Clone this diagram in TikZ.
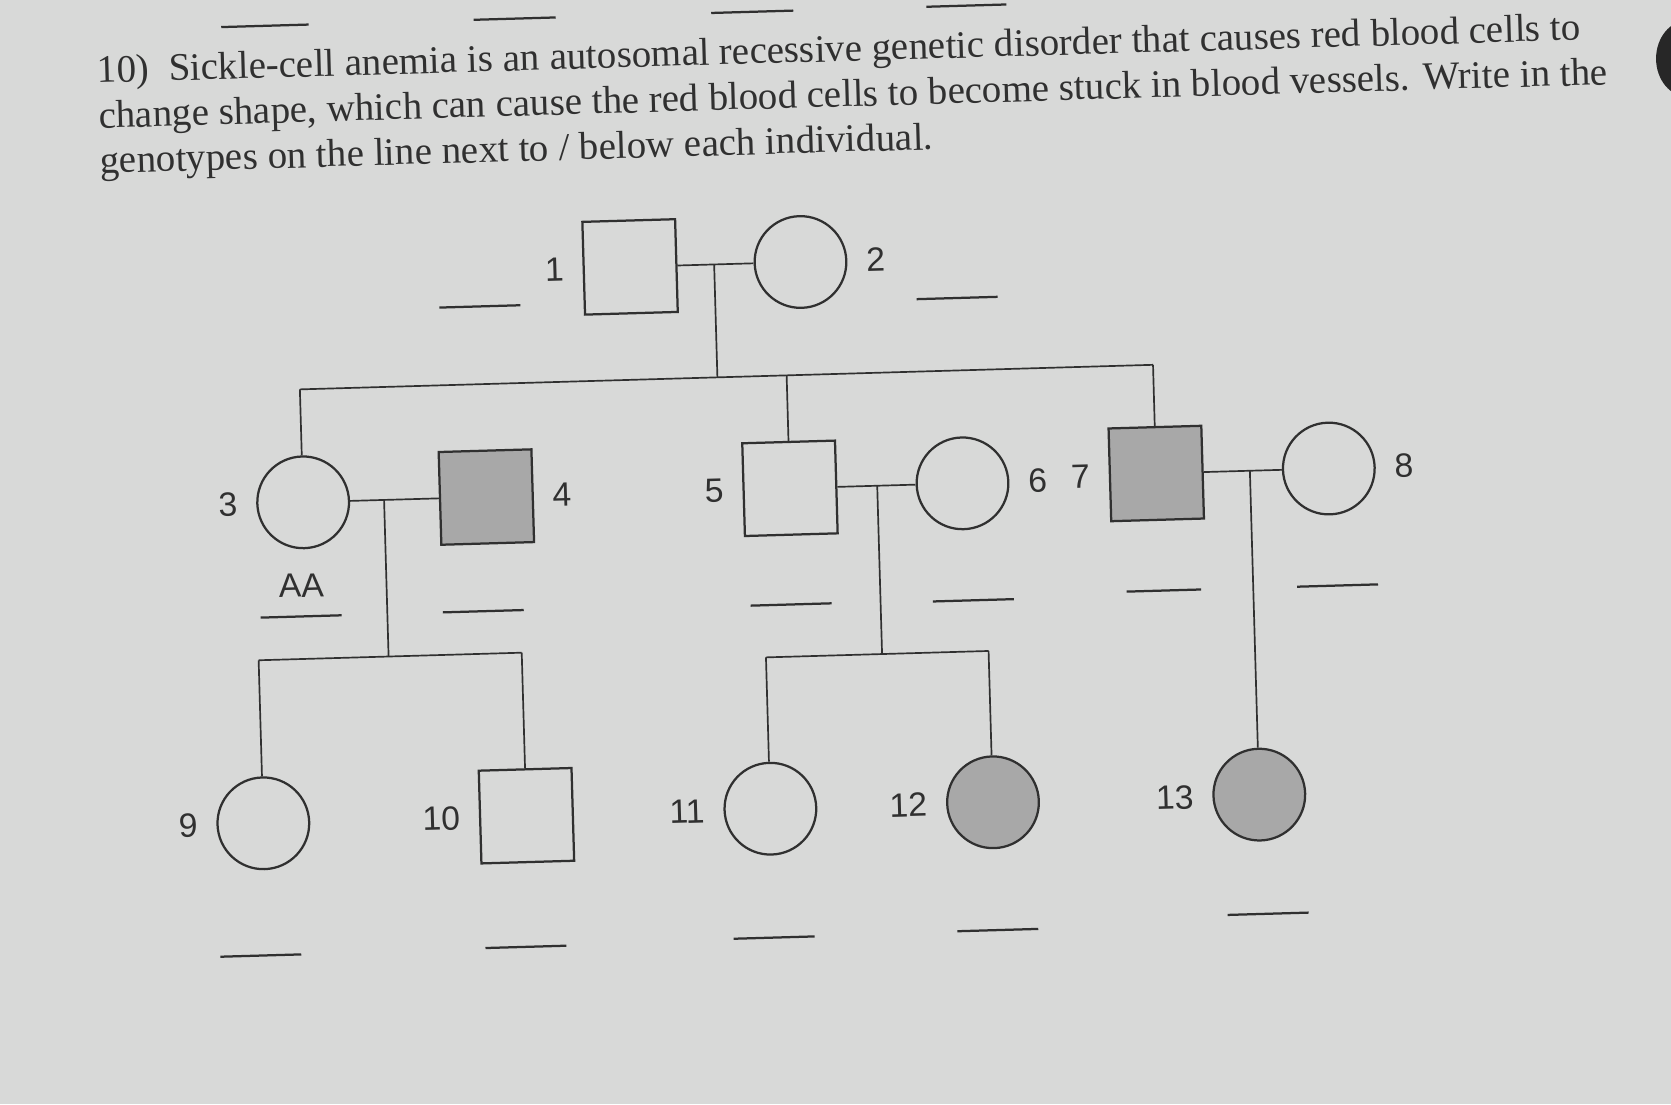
\documentclass[tikz,border=0pt]{standalone}
\usepackage{fontspec}
\setmainfont{Liberation Serif}
\newfontfamily\arialfont{Liberation Sans}
\usepackage{tikz}
\usetikzlibrary{positioning}
\definecolor{paper}{HTML}{D8D9D8}
\definecolor{ink}{HTML}{303030}
\definecolor{shade}{HTML}{A8A8A8}

\begin{document}
\begin{tikzpicture}[x=0.01cm, y=-0.01cm,
    male/.style={draw=ink, line width=0.6pt, minimum size=0.87cm, inner sep=0pt},
    female/.style={circle, draw=ink, line width=0.6pt, minimum size=0.86cm, inner sep=0pt},
    affected/.style={fill=shade},
    num/.style={font=\arialfont\fontsize{9}{10}\selectfont, text=ink, inner sep=0pt},
    link/.style={draw=ink, line width=0.45pt},
    gline/.style={draw=ink, line width=0.6pt},
    para/.style={font=\fontsize{10.4}{12.1}\selectfont, text=ink, inner sep=0pt,
                 align=left, anchor=base west},
    label distance=0.17cm
  ]
    \fill[paper] (0,0) rectangle (1568,1036);
    \useasboundingbox (0,0) rectangle (1568,1036);
    \fill[ink!80!black] (1584,55) ellipse [x radius=0.3cm, y radius=0.36cm];

  \begin{scope}[rotate around={1.65:(784,518)}, transform shape]
    % question text (anchored on the last line)
    \node[para] (question) at (104,143) {10)\enspace Sickle-cell anemia is an autosomal recessive genetic disorder that causes red blood cells to\\
      change shape, which can cause the red blood cells to become stuck in blood vessels. Write in the\\
      genotypes on the line next to / below each individual.};

    % blanks left from the previous question
    \draw[gline] (222,9) -- (304,9);
    \draw[gline] (459,9) -- (536,9);
    \draw[gline] (682,9) -- (759,9);
    \draw[gline] (884,9) -- (959,9);

    % generation I
    \node[male] (n1) at (599,245) [label={[num]left:1}] {};
    \node[female] (n2) at (759,245) [label={[num]right:2}] {};
    \draw[link] (n1) -- (n2);
    \coordinate (c12) at (678,245);
    \coordinate (s12) at (678,351);
    \draw[gline] (419,278) -- (495,278);
    \draw[gline] (867,283) -- (943,283);

    % generation II
    \node[female] (n3) at (286,457) [label={[num]left:3}] {};
    \node[male, affected] (n4) at (458,457) [label={[num]right:4}] {};
    \node[male] (n5) at (743,457) [label={[num]left:5}] {};
    \node[female] (n6) at (905,457) [label={[num]right:6}] {};
    \node[male, affected] (n7) at (1087,453) [label={[num]left:7}] {};
    \node[female] (n8) at (1249,453) [label={[num]right:8}] {};
    \coordinate (s3) at (286,351);
    \coordinate (s5) at (743,351);
    \coordinate (s7) at (1087,351);
    \draw[link] (c12) -- (s12);
    \draw[link] (s3) -- (s7);
    \draw[link] (s3) -- (n3);
    \draw[link] (s5) -- (n5);
    \draw[link] (s7) -- (n7);
    \draw[link] (n3) -- (n4);
    \draw[link] (n5) -- (n6);
    \draw[link] (n7) -- (n8);
    \node[num] (aa) at (282,535) {AA};
    \draw[gline] (243,564) -- (319,564);
    \draw[gline] (414,564) -- (490,564);
    \draw[gline] (703,566) -- (779,566);
    \draw[gline] (874,567) -- (950,567);
    \draw[gline] (1056,563) -- (1126,563);
    \draw[gline] (1216,563) -- (1292,563);

    % generation III
    \node[female] (n9) at (240,757) [label={[num]left:9}] {};
    \node[male] (n10) at (487,757) [label={[num]left:10}] {};
    \node[female] (n11) at (716,757) [label={[num]left:11}] {};
    \node[female, affected] (n12) at (925,757) [label={[num]left:12}] {};
    \node[female, affected] (n13) at (1175,757) [label={[num]left:13}] {};
    \coordinate (c34) at (362,457);
    \coordinate (s34) at (362,604);
    \coordinate (s9) at (240,604);
    \coordinate (s10) at (487,604);
    \draw[link] (c34) -- (s34);
    \draw[link] (s9) -- (s10);
    \draw[link] (s9) -- (n9);
    \draw[link] (s10) -- (n10);
    \coordinate (c56) at (825,457);
    \coordinate (s56) at (825,615);
    \coordinate (s11) at (716,615);
    \coordinate (s12b) at (925,615);
    \draw[link] (c56) -- (s56);
    \draw[link] (s11) -- (s12b);
    \draw[link] (s11) -- (n11);
    \draw[link] (s12b) -- (n12);
    \coordinate (c78) at (1175,453);
    \draw[link] (c78) -- (n13);
    \draw[gline] (196,881) -- (272,881);
    \draw[gline] (445,880) -- (521,880);
    \draw[gline] (678,878) -- (754,878);
    \draw[gline] (888,877) -- (964,877);
    \draw[gline] (1142,869) -- (1218,869);
  \end{scope}
\end{tikzpicture}
\end{document}
